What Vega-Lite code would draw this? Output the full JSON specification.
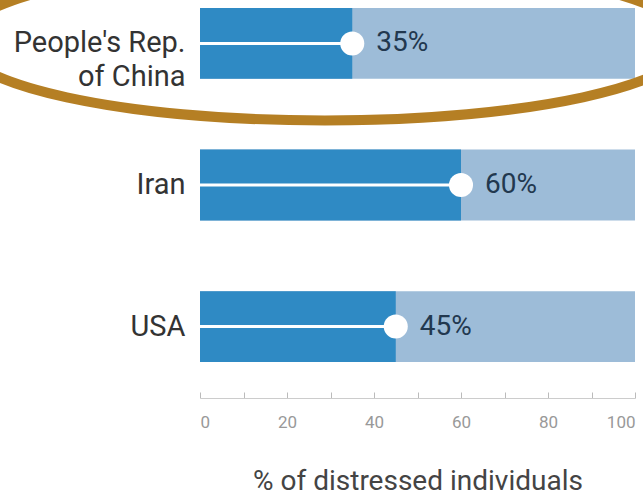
{
  "$schema": "https://vega.github.io/schema/vega-lite/v6.json",
  "width": 435,
  "height": 368,
  "autosize": "none",
  "padding": {"left": 200, "top": 1, "right": 8, "bottom": 127},
  "background": "white",
  "config": {"view": {"stroke": null}, "font": "Roboto"},
  "data": {"values": [
    {"country": "People's Rep. of China", "value": 35},
    {"country": "Iran", "value": 60},
    {"country": "USA", "value": 45}
  ]},
  "transform": [{"calculate": "datum.value + '%'", "as": "label"}],
  "encoding": {
    "y": {
      "field": "country", "type": "nominal", "sort": null,
      "scale": {"paddingInner": 0.5, "paddingOuter": 0.05},
      "axis": {
        "title": null, "domain": false, "ticks": false,
        "labelFontSize": 29, "labelColor": "#333333", "labelPadding": 15,
        "labelFont": "Roboto", "labelLineHeight": 34, "labelLimit": 250,
        "labelExpr": "datum.label == \"People's Rep. of China\" ? [\"People's Rep.\", 'of China'] : datum.label",
        "encode": {"labels": {"update": {"dy": {"signal": "datum.value == \"People's Rep. of China\" ? -21 : 0"}}}}
      }
    }
  },
  "layer": [
    {
      "mark": {"type": "bar", "color": "#9dbcd8"},
      "encoding": {
        "x": {"datum": 100, "type": "quantitative", "scale": {"domain": [0, 100]}}
      }
    },
    {
      "mark": {"type": "bar", "color": "#2f8ac4"},
      "encoding": {"x": {"field": "value", "type": "quantitative",
          "axis": {
            "title": "% of distressed individuals", "offset": 29,
            "values": [0, 10, 20, 30, 40, 50, 60, 70, 80, 90, 100],
            "labelExpr": "datum.value % 20 == 0 ? datum.label : ''",
            "domainColor": "#cccccc", "tickColor": "#bbbbbb", "tickSize": -6,
            "labelColor": "#999999", "labelFontSize": 17, "labelPadding": 22,
            "grid": false, "titleFontSize": 28, "titleFontWeight": "normal",
            "titleColor": "#444444", "titlePadding": 37, "titleFont": "Roboto"
          }}}
    },
    {
      "mark": {"type": "bar", "color": "white", "height": 3},
      "encoding": {"x": {"field": "value", "type": "quantitative"}}
    },
    {
      "mark": {"type": "point", "filled": true, "color": "white", "opacity": 1, "size": 580},
      "encoding": {"x": {"field": "value", "type": "quantitative"}}
    },
    {
      "mark": {"type": "text", "align": "left", "dx": 24, "fontSize": 28, "color": "#22384f", "font": "Roboto"},
      "encoding": {"x": {"field": "value", "type": "quantitative"}, "text": {"field": "label"}}
    },
    {
      "transform": [{"filter": "datum.country == \"People's Rep. of China\""}],
      "mark": {"type": "point", "filled": false, "shape": "M-1,0A1,0.2164 0 1,0 1,0A1,0.2164 0 1,0 -1,0", "size": 532900, "stroke": "#b57f24", "strokeWidth": 10, "opacity": 1, "yOffset": -2},
      "encoding": {"x": {"datum": 28.7, "type": "quantitative"}}
    }
  ]
}
